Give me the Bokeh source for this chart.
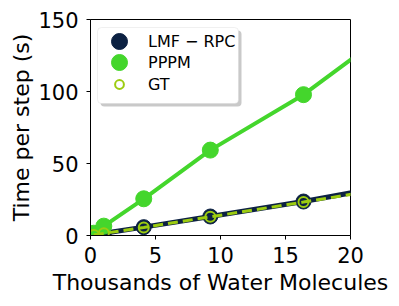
from bokeh.plotting import figure
from bokeh.models import Range1d, Legend, LegendItem, FixedTicker, BoxAnnotation
from bokeh.embed import file_html
from bokeh.resources import INLINE

# Data (thousands of water molecules vs time per step in seconds)
molecules = [0.256, 1.024, 4.096, 9.216, 16.384, 25.6]
lmf_rpc = [0.4, 1.6, 5.8, 13.2, 23.6, 38.8]
pppm = [1.6, 6.5, 25.5, 59.3, 97.8, 159.5]
gt = [0.4, 1.5, 5.6, 13.0, 23.2, 36.7]

x_ticks = [0, 5, 10, 15, 20]
y_ticks = [0, 50, 100, 150]

NAVY = "#0c2142"
GREEN = "#44d62c"
GTCOL = "#9ccc10"
FONT = "DejaVu Sans"

p = figure(frame_width=260, frame_height=216, output_backend="svg",
           toolbar_location=None,
           x_range=Range1d(0, 20), y_range=Range1d(0, 150),
           min_border_left=90, min_border_right=41, min_border_top=19,
           min_border_bottom=63)

p.xgrid.visible = False
p.ygrid.visible = False
p.outline_line_color = "black"
p.outline_line_alpha = 1.0
p.outline_line_width = 1

for ax in (p.xaxis[0], p.yaxis[0]):
    ax.axis_line_color = "black"
    ax.major_tick_line_color = "black"
    ax.major_tick_out = 4
    ax.major_tick_in = 0
    ax.minor_tick_line_color = None
    ax.major_label_text_font = FONT
    ax.major_label_text_font_size = "21px"
    ax.major_label_text_color = "black"
    ax.axis_label_text_font = FONT
    ax.axis_label_text_font_size = "22px"
    ax.axis_label_text_font_style = "normal"
    ax.axis_label_text_color = "black"

p.xaxis.ticker = FixedTicker(ticks=x_ticks)
p.yaxis.ticker = FixedTicker(ticks=y_ticks)
p.xaxis.axis_label = "Thousands of Water Molecules"
p.yaxis.axis_label = "Time per step (s)"
p.xaxis.major_label_standoff = 7
p.yaxis.major_label_standoff = 8
p.xaxis.axis_label_standoff = 4
p.yaxis.axis_label_standoff = 1

# legend frame (drawn behind the legend items)
shadow = BoxAnnotation(left=10, right=151, top=205, bottom=129,
                       left_units="screen", right_units="screen",
                       top_units="screen", bottom_units="screen",
                       fill_color="#bbbbbb", fill_alpha=0.8, line_color=None,
                       border_radius=4, level="underlay")
box = BoxAnnotation(left=7, right=148, top=208, bottom=132,
                    left_units="screen", right_units="screen",
                    top_units="screen", bottom_units="screen",
                    fill_color="white", fill_alpha=1.0, line_color="#cccccc",
                    line_width=1, border_radius=4, level="underlay")
p.add_layout(shadow)
p.add_layout(box)

# LMF-RPC
p.line(molecules, lmf_rpc, line_color=NAVY, line_width=5)
r_lmf = p.scatter(molecules, lmf_rpc, marker="circle", size=15,
                  fill_color=NAVY, line_color=NAVY)
# PPPM
p.line(molecules, pppm, line_color=GREEN, line_width=4)
r_pppm = p.scatter(molecules, pppm, marker="circle", size=16,
                   fill_color=GREEN, line_color=GREEN)
# GT
p.line(molecules, gt, line_color=GTCOL, line_width=3, line_dash="10 5")
r_gt = p.scatter(molecules, gt, marker="circle", size=10,
                 fill_color=None, line_color=GTCOL, line_width=2)


def make_legend(label, renderer, glyph, standoff, loc):
    lg = Legend(items=[LegendItem(label=label, renderers=[renderer])],
                location=loc)
    lg.label_text_font = FONT
    lg.label_text_font_size = "16px"
    lg.label_text_color = "black"
    lg.border_line_color = None
    lg.background_fill_alpha = 0.0
    lg.margin = 0
    lg.padding = 0
    lg.glyph_width = glyph
    lg.glyph_height = glyph
    lg.label_height = glyph
    lg.label_standoff = standoff
    return lg


p.add_layout(make_legend("LMF \u2212 RPC", r_lmf, 40, 9, (9, 174)))
p.add_layout(make_legend("PPPM", r_pppm, 40, 9, (9, 153)))
p.add_layout(make_legend("GT", r_gt, 22, 18, (18, 140)))

open("out.html", "w").write(file_html(p, INLINE))
